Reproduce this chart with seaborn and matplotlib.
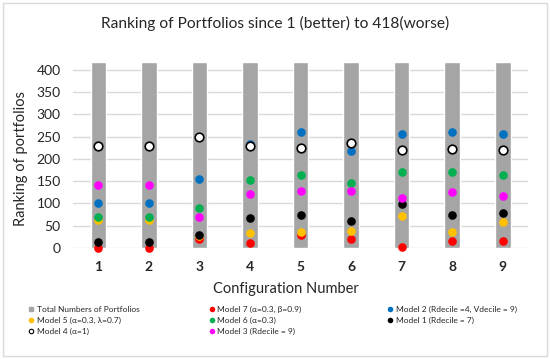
import numpy as np
import pandas as pd
import matplotlib
matplotlib.use("Agg")
import matplotlib.pyplot as plt
import seaborn as sns
from matplotlib.lines import Line2D
from matplotlib.patches import Rectangle

configs = ["1", "2", "3", "4", "5", "6", "7", "8", "9"]
total = [418] * 9
model7 = [1, 1, 20, 11, 29, 21, 2, 15, 15]
model2 = [101, 101, 156, 233, 260, 218, 255, 260, 255]
model5 = [64, 64, 26, 34, 35, 38, 73, 35, 58]
model6 = [69, 69, 90, 152, 163, 147, 170, 170, 164]
model1 = [13, 13, 30, 68, 75, 61, 98, 75, 78]
model4 = [228, 228, 249, 228, 224, 235, 219, 223, 221]
model3 = [141, 141, 70, 121, 129, 129, 113, 125, 116]

series = [
    ("Model 7 (\u03b1=0.3, \u03b2=0.9)", model7, "#FF0000", "#FF0000"),
    ("Model 2 (Rdecile =4, Vdecile = 9)", model2, "#0070C0", "#0070C0"),
    ("Model 5 (\u03b1=0.3, \u03bb=0.7)", model5, "#FFC000", "#FFC000"),
    ("Model 6 (\u03b1=0.3)", model6, "#00B050", "#00B050"),
    ("Model 1 (Rdecile = 7)", model1, "#000000", "#000000"),
    ("Model 4 (\u03b1=1)", model4, "#FFFFFF", "#000000"),
    ("Model 3 (Rdecile = 9)", model3, "#FF00FF", "#FF00FF"),
]

sns.set_style("white")
plt.rcParams["font.family"] = ["Lato", "DejaVu Sans"]

fig = plt.figure(figsize=(5.5, 3.59), dpi=100)
ax = fig.add_axes([0.133, 0.309, 0.827, 0.519])

df = pd.DataFrame({"config": configs, "total": total})
sns.barplot(data=df, x="config", y="total", color="#A5A5A5", width=0.31,
            saturation=1, ax=ax, zorder=2)

for name, vals, fc, ec in series:
    sns.stripplot(x=configs, y=vals, jitter=False, color=fc, edgecolor=ec,
                  linewidth=1.2 if fc == "#FFFFFF" else 0, size=6.2, ax=ax,
                  zorder=3, clip_on=False)

ax.set_xlim(-0.5, 8.5)
ax.set_ylim(0, 418)
ax.set_yticks(np.arange(0, 401, 50))
ax.yaxis.grid(True, color="#D9D9D9", linewidth=1, zorder=0)
ax.set_axisbelow(True)
for s in ax.spines.values():
    s.set_visible(False)
ax.tick_params(axis="y", length=0, pad=9, labelsize=10)
ax.tick_params(axis="x", length=0, pad=9, labelsize=10)
for lab in ax.get_xticklabels():
    lab.set_fontweight("bold")
ax.set_ylabel("Ranking of portfolios", fontsize=10.5)
ax.set_xlabel("Configuration Number", fontsize=10.5)
ax.xaxis.set_label_coords(0.468, -0.18)
ax.yaxis.set_label_coords(-0.1, 0.48)

fig.suptitle("Ranking of Portfolios since 1 (better) to 418(worse)",
             fontsize=11.2, y=0.955)

handles = [Line2D([], [], marker="s", linestyle="", color="#A5A5A5",
                  markersize=3.4, label="Total Numbers of Portfolios")]
for name, vals, fc, ec in series:
    white = fc == "#FFFFFF"
    handles.append(Line2D([], [], marker="o", linestyle="", markerfacecolor=fc,
                          markeredgecolor=ec, markeredgewidth=0.8 if white else 0,
                          markersize=3.2 if white else 4, label=name))

# three legend columns, filled row by row like the original
cols = [[0, 3, 6], [1, 4, 7], [2, 5]]
xs = [0.051, 0.379, 0.704]
for idx, x in zip(cols, xs):
    fig.legend(handles=[handles[i] for i in idx], loc="upper left",
               bbox_to_anchor=(x, 0.148), frameon=False, fontsize=6,
               handletextpad=0.3, labelspacing=0.45, handlelength=0.75,
               borderpad=0, borderaxespad=0)

fig.patches.append(Rectangle((0.005, 0.008), 0.99, 0.984, transform=fig.transFigure,
                             fill=False, edgecolor="#D9D9D9", linewidth=1))

fig.savefig("out.png", dpi=100)
